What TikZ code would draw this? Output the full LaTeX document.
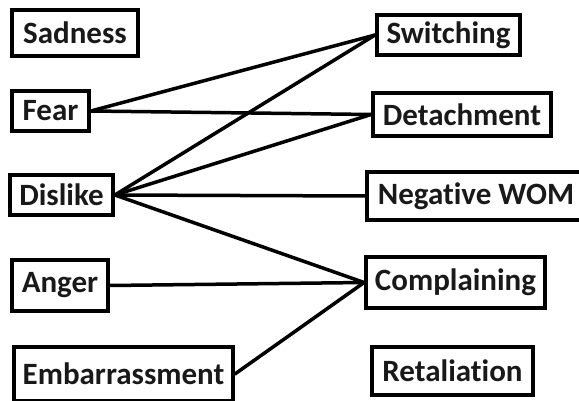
\documentclass[tikz,border=0pt]{standalone}
\usepackage{fontspec}
\setmainfont[Ligatures=NoCommon]{Carlito}
\begin{document}
\begin{tikzpicture}[x=1pt,y=-1pt,
  box/.style={draw=black, line width=3.8pt, fill=white, inner sep=0pt,
    font=\fontsize{31}{36}\selectfont\bfseries, text=black!90},
  link/.style={draw=black, line width=3.5pt, line cap=round}]
\useasboundingbox (0,0) rectangle (579,401);
\fill[white] (0,0) rectangle (579,401);
% left column
\node[box, minimum width=126pt, minimum height=46pt] (sad) at (75,33) {Sadness};
\node[box, minimum width=77pt, minimum height=40pt] (fear) at (50.5,111) {Fear};
\node[box, minimum width=103pt, minimum height=40pt] (dislike) at (61.5,195) {Dislike};
\node[box, minimum width=96pt, minimum height=51pt] (anger) at (60,285.5) {Anger};
\node[box, minimum width=219pt, minimum height=54pt] (emb) at (123.5,374) {Embarrassment};
% right column
\node[box, minimum width=143pt, minimum height=40pt] (switch) at (448.5,35) {Switching};
\node[box, minimum width=178pt, minimum height=43pt] (detach) at (462,114.5) {Detachment};
\node[box, minimum width=218pt, minimum height=48pt] (wom) at (476,196) {Negative WOM};
\node[box, minimum width=179pt, minimum height=51pt] (compl) at (455.5,282.5) {Complaining};
\node[box, minimum width=161pt, minimum height=48pt] (retal) at (452.5,371) {Retaliation};
% connectors
\draw[link] (fear.east) -- (switch.west);
\draw[link] (fear.east) -- (detach.west);
\draw[link] (dislike.east) -- (switch.west);
\draw[link] (dislike.east) -- (detach.west);
\draw[link] (dislike.east) -- (wom.west);
\draw[link] (dislike.east) -- (compl.west);
\draw[link] (anger.east) -- (compl.west);
\draw[link] (emb.east) -- (compl.west);
\end{tikzpicture}
\end{document}
